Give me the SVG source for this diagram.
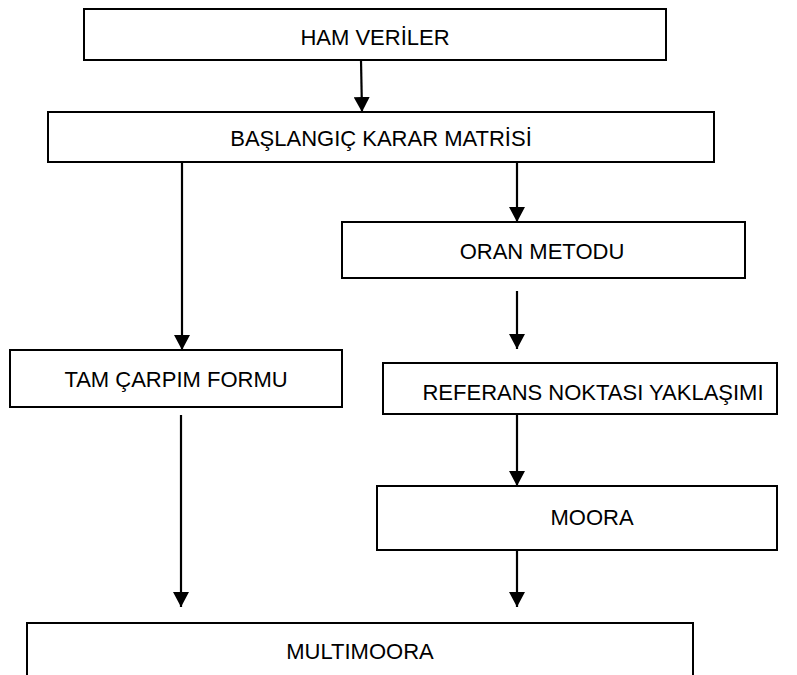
<svg xmlns="http://www.w3.org/2000/svg" width="797" height="675" viewBox="0 0 797 675">
  <defs>
    <marker id="arrow" markerUnits="userSpaceOnUse" markerWidth="16" markerHeight="16" refX="15" refY="8" orient="auto">
      <path d="M0,0 L15,8 L0,16 Z" fill="#000"/>
    </marker>
    <style>
      .box { fill: #fff; stroke: #000; stroke-width: 2; }
      .label { font-family: "Liberation Sans", Arial, sans-serif; font-size: 22px; fill: #000; text-anchor: middle; }
      .edge { stroke: #000; stroke-width: 2.2; fill: none; marker-end: url(#arrow); }
    </style>
  </defs>
  <rect width="797" height="675" fill="#fff"/>

  <g id="ham-veriler">
    <rect class="box" x="84" y="9" width="582" height="51"/>
    <text class="label" x="375" y="45">HAM VERİLER</text>
  </g>
  <g id="baslangic-karar-matrisi">
    <rect class="box" x="48" y="112" width="666" height="50"/>
    <text class="label" x="381" y="146">BAŞLANGIÇ KARAR MATRİSİ</text>
  </g>
  <g id="oran-metodu">
    <rect class="box" x="342" y="222" width="403" height="56"/>
    <text class="label" x="542" y="259">ORAN METODU</text>
  </g>
  <g id="tam-carpim-formu">
    <rect class="box" x="10" y="350" width="332" height="57"/>
    <text class="label" x="176" y="387">TAM ÇARPIM FORMU</text>
  </g>
  <g id="referans-noktasi">
    <rect class="box" x="383" y="363" width="394" height="51"/>
    <text class="label" x="593" y="400">REFERANS NOKTASI YAKLAŞIMI</text>
  </g>
  <g id="moora">
    <rect class="box" x="377" y="486" width="400" height="64"/>
    <text class="label" x="592" y="525">MOORA</text>
  </g>
  <g id="multimoora">
    <rect class="box" x="27" y="623" width="666" height="80"/>
    <text class="label" x="360" y="659">MULTIMOORA</text>
  </g>

  <g id="connectors">
    <line class="edge" x1="361" y1="60" x2="362" y2="112"/>
    <line class="edge" x1="182" y1="162" x2="182" y2="350"/>
    <line class="edge" x1="517" y1="162" x2="517" y2="222"/>
    <line class="edge" x1="517" y1="291" x2="517" y2="349"/>
    <line class="edge" x1="181" y1="415" x2="181" y2="607"/>
    <line class="edge" x1="517" y1="414" x2="517" y2="486"/>
    <line class="edge" x1="517" y1="550" x2="517" y2="607"/>
  </g>
</svg>
